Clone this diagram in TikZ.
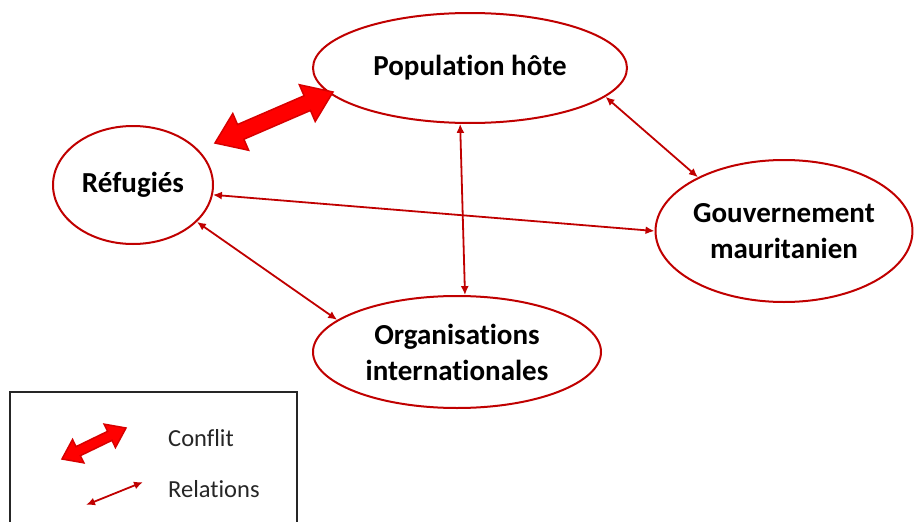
\documentclass[tikz,border=0pt]{standalone}
\usepackage{fontspec}
\setmainfont[Ligatures=NoCommon]{Carlito}
\usetikzlibrary{shapes.geometric,arrows.meta,calc}
\definecolor{dred}{RGB}{192,0,0}
\definecolor{cred}{RGB}{255,0,0}
\definecolor{cedge}{RGB}{215,0,0}
\tikzset{
 actor/.style={ellipse, draw=dred, line width=2pt, inner sep=0pt, align=center, font=\fontsize{29}{36}\selectfont\bfseries},
 rel/.style={draw=dred, line width=1.8pt, {Latex[length=9pt,width=8pt]}-{Latex[length=9pt,width=8pt]}},
 legtext/.style={anchor=west, inner sep=0pt, font=\fontsize{24.5}{30}\selectfont, text=black!85},
 conf/.style={fill=cred, draw=cedge, line width=1.5pt, line join=miter}
}
% #1 start, #2 end, #3 head length, #4 head half width, #5 shaft half width
\newcommand{\conflictarrow}[5]{%
 \path let \p1=($(#2)-(#1)$) in \pgfextra{\pgfmathsetmacro\cang{atan2(\y1,\x1)}\pgfmathsetmacro\clen{veclen(\x1,\y1)}\xdef\cang{\cang}\xdef\clen{\clen}};
 \begin{scope}[shift={(#1)}, rotate=\cang]
  \filldraw[conf] (0pt,0pt) -- (#3,#4) -- (#3,#5) -- (\clen pt-#3,#5) -- (\clen pt-#3,#4) -- (\clen pt,0pt)
   -- (\clen pt-#3,-#4) -- (\clen pt-#3,-#5) -- (#3,-#5) -- (#3,-#4) -- cycle;
 \end{scope}}
\begin{document}
\begin{tikzpicture}[x=1pt,y=1pt]
\useasboundingbox (0,0) rectangle (914,-522);
% actors
\node[actor, minimum width=314pt, minimum height=110pt] (pop) at (470,-68) {Population hôte};
\node[actor, minimum width=160pt, minimum height=118pt] (ref) at (133,-185) {Réfugiés};
\node[actor, minimum width=248pt, minimum height=142pt] (gouv) at (784,-231) {Gouvernement\\mauritanien};
\node[actor, minimum width=288pt, minimum height=112pt] (org) at (457,-352) {Organisations\\internationales};
% relations
\draw[rel] (pop.260) -- (org.82);
\draw[rel] (pop.348) -- (gouv.148);
\draw[rel] (ref.353) -- (gouv.180);
\draw[rel] (ref.330) -- (org.165);
% conflict
\coordinate (c1) at (215,-143);
\coordinate (c2) at (333,-92);
\conflictarrow{c1}{c2}{28pt}{20pt}{8pt}
% legend
\draw[black!85, line width=2pt] (10,-530) -- (10,-392) -- (297,-392) -- (297,-530);
\coordinate (l1) at (62,-459);
\coordinate (l2) at (126,-428);
\conflictarrow{l1}{l2}{18pt}{13pt}{5pt}
\coordinate (l3) at (86,-505);
\coordinate (l4) at (143,-482);
\draw[rel] (l3) -- (l4);
\node[legtext] (tconf) at (168,-438) {Conflit};
\node[legtext] (trel) at (168,-489) {Relations};
\end{tikzpicture}
\end{document}
